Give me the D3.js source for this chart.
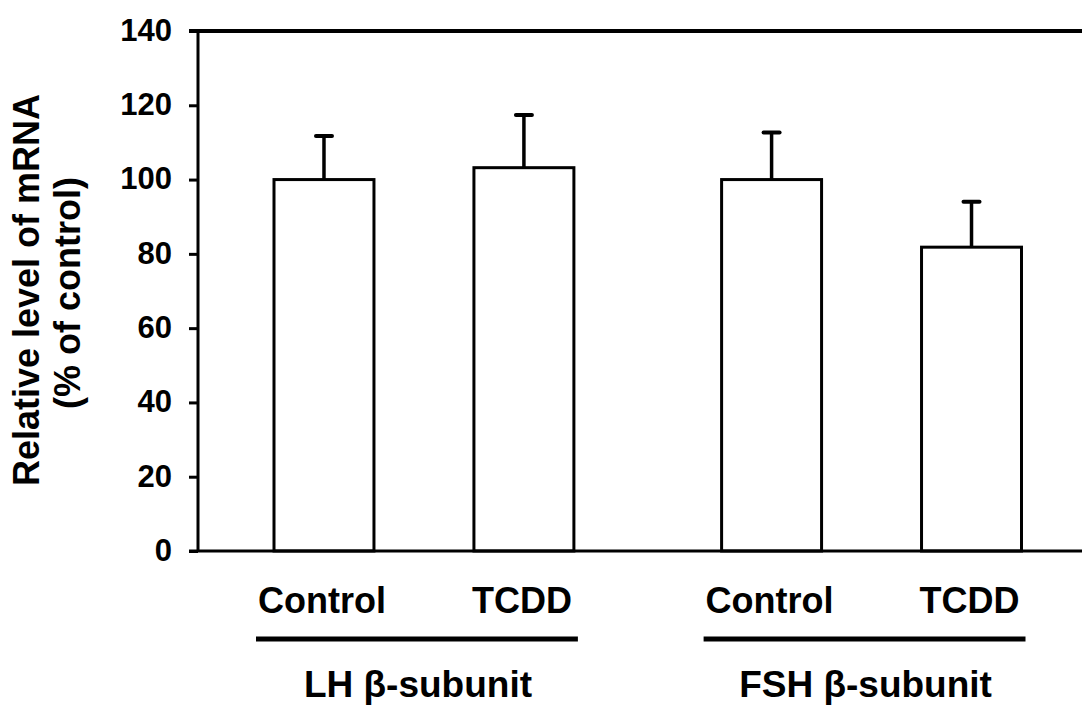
<!DOCTYPE html>
<html>
<head>
<meta charset="utf-8">
<script src="https://cdn.jsdelivr.net/npm/d3@7"></script>
<style>
  body { margin: 0; background: #fff; }
  svg { display: block; font-family: "Liberation Sans", Arial, sans-serif; font-weight: bold; }
</style>
</head>
<body>
<svg width="1082" height="706"></svg>
<script>
// values
var groups = ["LH \u03b2-subunit", "FSH \u03b2-subunit"];
var treatments = ["Control", "TCDD"];
var means = [[100, 103.2], [100, 81.8]];
var errors = [[11.7, 14.2], [12.7, 12.2]];
var yTicks = [0, 20, 40, 60, 80, 100, 120, 140];

var svg = d3.select("svg"),
    margin = {top: 31, right: 0, bottom: 155, left: 198},
    width = +svg.attr("width") - margin.left - margin.right,
    height = +svg.attr("height") - margin.top - margin.bottom,
    g = svg.append("g").attr("transform", "translate(" + margin.left + "," + margin.top + ")");

var x0 = d3.scaleBand()
    .domain(groups)
    .range([76, 823.5])
    .paddingInner(0.33)
    .paddingOuter(0);

var x1 = d3.scaleBand()
    .domain(treatments)
    .range([0, x0.bandwidth()])
    .paddingInner(0.5)
    .paddingOuter(0);

var y = d3.scaleLinear()
    .domain([0, 140])
    .range([height, 0]);

var data = [];
groups.forEach(function (gr, i) {
    treatments.forEach(function (t, j) {
        data.push({group: gr, treat: t, value: means[i][j], err: errors[i][j]});
    });
});

// error bars (drawn first so the bar outline sits on top)
var eb = g.selectAll(".err")
    .data(data)
    .enter().append("g")
        .attr("class", "err")
        .attr("transform", function (d) { return "translate(" + (x0(d.group) + x1(d.treat) + x1.bandwidth() / 2) + ",0)"; });

eb.append("line")
    .attr("y1", function (d) { return y(d.value); })
    .attr("y2", function (d) { return y(d.value + d.err); })
    .attr("stroke", "#000")
    .attr("stroke-width", 3.5);

eb.append("line")
    .attr("x1", -8).attr("x2", 8)
    .attr("y1", function (d) { return y(d.value + d.err); })
    .attr("y2", function (d) { return y(d.value + d.err); })
    .attr("stroke", "#000")
    .attr("stroke-width", 4)
    .attr("stroke-linecap", "round");

g.selectAll(".bar")
    .data(data)
    .enter().append("rect")
        .attr("class", "bar")
        .attr("x", function (d) { return x0(d.group) + x1(d.treat); })
        .attr("y", function (d) { return y(d.value); })
        .attr("width", x1.bandwidth())
        .attr("height", function (d) { return y(0) - y(d.value); })
        .attr("fill", "#fff")
        .attr("stroke", "#000")
        .attr("stroke-width", 3);

// y axis
var yAxis = g.append("g")
    .call(d3.axisLeft(y).tickValues(yTicks).tickSize(9).tickPadding(17));
yAxis.select(".domain").remove();
yAxis.selectAll(".tick line").attr("stroke-width", 3);
yAxis.selectAll(".tick text")
    .attr("font-size", 31)
    .attr("font-family", "Liberation Sans, Arial, sans-serif")
    .attr("font-weight", "bold")
    .attr("dy", "0.3em")
    .attr("fill", "#000");

g.append("line")
    .attr("x1", 0).attr("x2", 0)
    .attr("y1", y(140)).attr("y2", y(0))
    .attr("stroke", "#000").attr("stroke-width", 3);

// baseline and top frame line
g.append("line")
    .attr("x1", -9).attr("x2", width)
    .attr("y1", y(0)).attr("y2", y(0))
    .attr("stroke", "#000").attr("stroke-width", 3);
g.append("line")
    .attr("x1", -9).attr("x2", width)
    .attr("y1", y(140)).attr("y2", y(140))
    .attr("stroke", "#000").attr("stroke-width", 4);

// treatment labels
g.selectAll(".cat")
    .data(data)
    .enter().append("text")
        .attr("class", "cat")
        .attr("x", function (d) { return x0(d.group) + x1(d.treat) + x1.bandwidth() / 2 - 2; })
        .attr("y", height + 62)
        .attr("text-anchor", "middle")
        .attr("font-size", 36)
        .text(function (d) { return d.treat; });

// group underline and names
var gg = g.selectAll(".grp")
    .data(groups)
    .enter().append("g")
        .attr("class", "grp");

gg.append("line")
    .attr("x1", function (d) { return x0(d) - 18; })
    .attr("x2", function (d) { return x0(d) + x0.bandwidth() + 4; })
    .attr("y1", height + 88)
    .attr("y2", height + 88)
    .attr("stroke", "#000")
    .attr("stroke-width", 5);

gg.append("text")
    .attr("x", function (d) { return x0(d) + x0.bandwidth() / 2 - 6; })
    .attr("y", height + 146)
    .attr("text-anchor", "middle")
    .attr("font-size", 37)
    .text(function (d) { return d; });

// y axis title
var yt = svg.append("text")
    .attr("transform", "translate(39,290) rotate(-90)")
    .attr("text-anchor", "middle")
    .attr("font-size", 36);
yt.append("tspan").attr("x", 0).attr("y", 0).text("Relative level of mRNA");
yt.append("tspan").attr("x", -3).attr("y", 41).text("(% of control)");
</script>
</body>
</html>
